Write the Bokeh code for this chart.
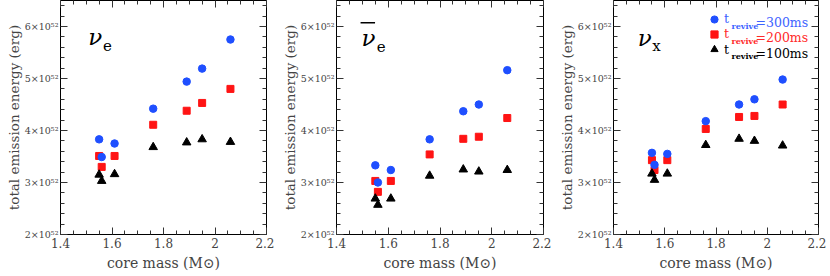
from bokeh.plotting import figure
from bokeh.layouts import row
from bokeh.models import (FixedTicker, LinearAxis, Range1d, Label, Legend, LegendItem,
                          BoxAnnotation, CustomJSTickFormatter)
from bokeh.embed import file_html
from bokeh.resources import INLINE

# ---------------- data (total emission energy in units of 1e52 erg) ----------------
core_mass = [1.55, 1.56, 1.61, 1.76, 1.89, 1.95, 2.06]

nue_300 = [3.83, 3.49, 3.75, 4.42, 4.94, 5.19, 5.75]
nue_200 = [3.51, 3.30, 3.51, 4.11, 4.38, 4.53, 4.80]
nue_100 = [3.15, 3.03, 3.16, 3.68, 3.77, 3.83, 3.78]

nuebar_300 = [3.33, 3.00, 3.24, 3.83, 4.37, 4.50, 5.16]
nuebar_200 = [3.03, 2.82, 3.03, 3.54, 3.84, 3.88, 4.24]
nuebar_100 = [2.69, 2.57, 2.69, 3.13, 3.25, 3.21, 3.24]

nux_300 = [3.57, 3.34, 3.55, 4.18, 4.50, 4.60, 4.98]
nux_200 = [3.43, 3.24, 3.43, 4.03, 4.26, 4.28, 4.50]
nux_100 = [3.17, 3.05, 3.17, 3.72, 3.84, 3.80, 3.71]

series_names = ["300ms", "200ms", "100ms"]

x_ticks = [1.4, 1.6, 1.8, 2.0, 2.2]
x_tick_labels = ["1.4", "1.6", "1.8", "2", "2.2"]
x_minor_ticks = [1.45, 1.5, 1.55, 1.65, 1.7, 1.75, 1.85, 1.9, 1.95, 2.05, 2.1, 2.15]
y_ticks = [2, 3, 4, 5, 6]
y_tick_labels = ["2×10⁵²", "3×10⁵²", "4×10⁵²", "5×10⁵²", "6×10⁵²"]
y_minor_ticks = [2.2, 2.4, 2.6, 2.8, 3.2, 3.4, 3.6, 3.8, 4.2, 4.4, 4.6, 4.8,
                 5.2, 5.4, 5.6, 5.8, 6.2, 6.4]

# ---------------- style ----------------
FONT = "DejaVu Serif"
BLUE = "#1f4fff"
RED = "#ff1414"
BLACK = "#000000"
TEXT_BLUE = "#3d63ff"
TEXT_RED = "#ff2a2a"
FH = 234


def style_axis(ax, labels=True):
    ax.axis_line_color = None
    ax.major_tick_in = 7
    ax.major_tick_out = 0
    ax.minor_tick_in = 4
    ax.minor_tick_out = 0
    ax.major_tick_line_color = "#333333"
    ax.minor_tick_line_color = "#333333"
    if not labels:
        ax.formatter = CustomJSTickFormatter(code="return ''")
        ax.major_label_standoff = 0
        ax.major_label_text_font_size = "1px"


def make_panel(s300, s200, s100, fw, min_left, min_right):
    p = figure(frame_width=fw, frame_height=FH,
               x_range=Range1d(1.4, 2.2), y_range=Range1d(2.0, 6.5),
               output_backend="svg", toolbar_location=None,
               min_border_left=min_left, min_border_right=min_right,
               min_border_top=0, min_border_bottom=0,
               background_fill_color="white", border_fill_color="white",
               outline_line_color="black", outline_line_width=1,
               x_axis_label="core mass (M⊙)",
               y_axis_label="total emission energy (erg)")
    p.xgrid.visible = False
    p.ygrid.visible = False

    xt = FixedTicker(ticks=x_ticks, minor_ticks=x_minor_ticks)
    yt = FixedTicker(ticks=y_ticks, minor_ticks=y_minor_ticks)

    xa = p.xaxis[0]
    xa.ticker = xt
    xa.major_label_overrides = dict(zip(x_ticks, x_tick_labels))
    style_axis(xa)
    xa.major_label_text_font = FONT
    xa.major_label_text_font_size = "12px"
    xa.major_label_standoff = 3
    xa.axis_label_text_font = FONT
    xa.axis_label_text_font_size = "14px"
    xa.axis_label_text_font_style = "normal"
    xa.axis_label_standoff = 4

    ya = p.yaxis[0]
    ya.ticker = yt
    ya.major_label_overrides = dict(zip(y_ticks, y_tick_labels))
    style_axis(ya)
    ya.major_label_text_font = FONT
    ya.major_label_text_font_size = "9.5px"
    ya.major_label_standoff = 2
    ya.axis_label_text_font = FONT
    ya.axis_label_text_font_size = "13.5px"
    ya.axis_label_text_font_style = "normal"
    ya.axis_label_standoff = 0

    top = LinearAxis(ticker=xt)
    style_axis(top, labels=False)
    p.add_layout(top, "above")
    right = LinearAxis(ticker=yt)
    style_axis(right, labels=False)
    p.add_layout(right, "right")

    r200 = p.scatter(core_mass, s200, marker="square", size=7, color=RED)
    r300 = p.scatter(core_mass, s300, marker="circle", size=7.5, color=BLUE)
    r100 = p.scatter(core_mass, s100, marker="triangle", size=8.5, color=BLACK)
    return p, (r300, r200, r100)


def nu_label(p, x, y, sub, sx, sy):
    p.add_layout(Label(x=x, y=y, text="ν", text_font=FONT, text_font_style="italic",
                       text_font_size="23px", text_color="black",
                       text_baseline="alphabetic"))
    p.add_layout(Label(x=sx, y=sy, text=sub, text_font=FONT,
                       text_font_size="15px", text_color="black",
                       text_baseline="alphabetic"))


p1, _ = make_panel(nue_300, nue_200, nue_100, 206, 60, 8)
nu_label(p1, 1.508, 5.79, "e", 1.565, 5.63)

p2, _ = make_panel(nuebar_300, nuebar_200, nuebar_100, 207, 62, 8)
nu_label(p2, 1.497, 5.78, "e", 1.556, 5.62)
p2.add_layout(BoxAnnotation(left=1.493, right=1.549, bottom=6.058, top=6.085,
                            fill_color="black", fill_alpha=1.0, line_color=None))

p3, rends = make_panel(nux_300, nux_200, nux_100, 205, 62, 8)
nu_label(p3, 1.495, 5.78, "x", 1.551, 5.63)

# legend (panel 3): markers via Legend, text pieces via Labels
row_top = [18.5, 33.75, 49.0]          # marker centres, px below frame top
text_cols = [TEXT_BLUE, TEXT_RED, BLACK]
for r, name, yc, col in zip(rends, series_names, row_top, text_cols):
    lg = Legend(items=[LegendItem(label="t", renderers=[r])],
                location=(92, FH - yc - 9), orientation="vertical",
                padding=0, margin=0, spacing=0,
                glyph_width=18, glyph_height=18, label_standoff=1,
                label_height=18, label_width=1,
                border_line_color=None, background_fill_alpha=0,
                label_text_font=FONT, label_text_font_size="12.5px",
                label_text_color=col)
    p3.add_layout(lg)
    p3.add_layout(Label(x=118, y=FH - yc - 6.5, x_units="screen", y_units="screen",
                        text="revive", text_font=FONT, text_font_style="bold",
                        text_font_size="8px", text_color=col,
                        text_baseline="alphabetic"))
    p3.add_layout(Label(x=142, y=FH - yc - 3.5, x_units="screen", y_units="screen",
                        text="=" + name, text_font=FONT,
                        text_font_size="12.5px", text_color=col,
                        text_baseline="alphabetic"))

layout = row(p1, p2, p3)
open("out.html", "w").write(file_html(layout, INLINE))
